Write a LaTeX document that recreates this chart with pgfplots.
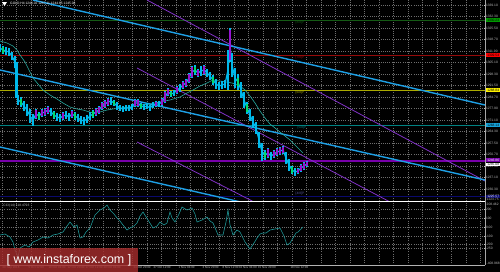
\documentclass[border=0pt]{standalone}
\usepackage{fontspec}
\setmainfont{Liberation Sans}
\usepackage{pgfplots}
\pgfplotsset{compat=1.18}
\definecolor{trendC}{RGB}{30,160,230}
\definecolor{trendP}{RGB}{130,50,200}
\definecolor{candC}{RGB}{0,185,235}
\definecolor{candP}{RGB}{150,20,210}
\definecolor{candG}{RGB}{0,220,110}
\definecolor{maC}{RGB}{40,170,160}
\definecolor{mmGreen}{RGB}{20,90,20}
\definecolor{mmRed}{RGB}{150,10,10}
\definecolor{mmYellow}{RGB}{170,170,0}
\definecolor{mmTeal}{RGB}{0,130,130}
\definecolor{mmPurple}{RGB}{120,0,170}
\definecolor{mmNavy}{RGB}{10,10,110}
\definecolor{cciC}{RGB}{30,150,150}
\definecolor{gridC}{RGB}{110,110,110}
\definecolor{lblC}{RGB}{190,190,190}
\newcommand{\tinyf}{\fontsize{3.3}{3.6}\selectfont}
\newcommand{\tinyx}{\fontsize{3.0}{3.3}\selectfont}
\begin{document}
\begin{tikzpicture}
\useasboundingbox (0,0) rectangle (500bp,-272bp);
\fill[black] (0,0) rectangle (500bp,-272bp);
% ---------------- main price panel ----------------
\begin{axis}[at={(0bp,0bp)}, anchor=north west, scale only axis,
  width=485bp, height=201bp, xmin=0, xmax=485, ymin=0, ymax=201, y dir=reverse,
  axis line style={draw=none}, clip mode=individual, unbounded coords=jump,
  xtick={2,16.5,...,481}, xticklabels={}, xtick style={draw=none},
  ytick={5,16.5,...,190},
  yticklabels={1339.10,1332.30,1325.50,1318.70,1311.90,1305.10,1298.30,1291.50,1284.70,1277.90,1271.10,1264.30,1257.50,1250.70,1243.90,1237.10,1230.30},
  ytick pos=right, yticklabel pos=right,
  ytick style={draw=lblC, line width=0.3bp}, major tick length=1.5bp,
  yticklabel style={font=\tinyf, text=lblC, inner sep=0.8bp},
  grid=major, grid style={gridC, dash pattern=on 0.6bp off 1.6bp, line width=0.45bp}]
% Murrey-type horizontal levels
\addplot[mmGreen, line width=0.8bp] coordinates {(0,20) (485,20)};
\addplot[mmRed, line width=0.8bp] coordinates {(0,55) (485,55)};
\addplot[mmYellow, line width=0.8bp] coordinates {(0,90) (485,90)};
\addplot[mmTeal, line width=0.8bp] coordinates {(0,125) (485,125)};
\addplot[mmPurple, line width=1.4bp] coordinates {(0,161) (485,161)};
\addplot[mmNavy, line width=1.6bp] coordinates {(0,196.5) (485,196.5)};
% purple channel lines
\addplot[trendP, line width=0.8bp] coordinates {(147,0) (485,181)};
\addplot[trendP, line width=0.8bp] coordinates {(137,68) (392,203)};
\addplot[trendP, line width=0.8bp] coordinates {(137,142) (256,203)};
% cyan trend lines
\addplot[trendC, line width=1.4bp] coordinates {(33,0) (485,105)};
\addplot[trendC, line width=1.4bp] coordinates {(0,70) (485,180)};
\addplot[trendC, line width=1.4bp] coordinates {(0,147) (245,203)};
% moving average
\addplot[maC, line width=0.6bp] coordinates {(0,41) (7,43) (13,46) (17,50) (20,55) (25,62) (30,72) (33,78) (38,84) (43,90) (50,95) (57,99) (63,103) (70,107) (77,109) (83,110) (93,113) (100,112) (107,110) (113,109) (120,108) (130,107) (140,105) (150,104) (160,102) (170,100) (180,97) (187,93) (193,90) (200,86) (207,83) (213,80) (220,81) (226,82) (232,83) (240,86) (245,90) (250,96) (255,103) (260,111) (265,118) (270,124) (275,128) (280,132) (285,136) (290,140) (295,145) (300,150) (303,153)};
% price path (closes)
\addplot[candC, line width=1.2bp] coordinates {(0,48) (3,50) (6,51) (9,52) (12,56) (15,62) (16.5,80) (18,100) (21,102) (24,106) (27,110) (30,116) (33,120) (36,114) (39,116) (42,113) (45,112) (48,110) (51,112) (54,115) (57,117) (60,118) (63,116) (66,115) (69,117) (72,114) (75,116) (78,118) (81,120) (84,121) (87,119) (90,116) (93,114) (96,112) (99,110) (102,106) (105,104) (108,102) (111,101) (114,103) (117,106) (120,108) (123,109) (126,108) (129,108) (132,107) (135,103) (138,103) (141,106) (144,107) (147,106) (150,108) (153,105) (156,104) (159,104) (162,102) (165,97) (168,92) (171,94) (174,93) (177,90) (180,88) (183,85) (186,83) (189,78) (192,72) (195,70) (198,73) (201,71) (204,70) (207,73) (210,76) (213,80) (216,84) (219,86) (222,85) (225,84) (228,70) (230,45) (232,65) (235,78) (238,82) (241,90) (244,100) (247,108) (250,115) (253,122) (256,128) (259,140) (262,152) (265,155) (268,153) (271,156) (274,154) (277,152) (280,151) (283,150) (286,158) (289,165) (292,170) (295,172) (298,171) (301,168) (304,166) (307,164)};
% candles: low-high ranges, one segment per candle
\addplot[candC, line width=2.4bp] coordinates {
(0,44) (0,52) (0,nan) (3,46) (3,54) (3,nan) (6,47) (6,55) (6,nan) (9,48) (9,56) (9,nan) (12,52) (12,60) (12,nan) (15,56) (15,68) (15,nan) (16.5,62) (16.5,98) (16.5,nan) (18,95) (18,105) (18,nan) (21,97) (21,107) (21,nan) (24,101) (24,111) (24,nan) (27,104) (27,116) (27,nan) (30,109) (30,123) (30,nan) (33,114) (33,126) (33,nan) (36,109) (36,119) (36,nan) (39,112) (39,120) (39,nan) (42,109) (42,117) (42,nan) (45,108) (45,116) (45,nan) (48,106) (48,114) (48,nan) (51,108) (51,116) (51,nan) (54,111) (54,119) (54,nan) (57,113) (57,121) (57,nan) (60,114) (60,122) (60,nan) (63,112) (63,120) (63,nan) (66,111) (66,119) (66,nan) (69,113) (69,121) (69,nan) (72,110) (72,118) (72,nan) (75,112) (75,120) (75,nan) (78,114) (78,122) (78,nan) (81,116) (81,124) (81,nan) (84,117) (84,125) (84,nan) (87,115) (87,123) (87,nan) (90,112) (90,120) (90,nan) (93,110) (93,118) (93,nan) (96,108) (96,116) (96,nan) (99,106) (99,114) (99,nan) (102,102) (102,110) (102,nan) (105,100) (105,108) (105,nan) (108,98) (108,106) (108,nan) (111,97) (111,105) (111,nan) (114,100) (114,106) (114,nan) (117,102) (117,110) (117,nan) (120,105) (120,111) (120,nan) (123,106) (123,112) (123,nan) (126,105) (126,111) (126,nan) (129,105) (129,111) (129,nan) (132,104) (132,110) (132,nan) (135,99) (135,107) (135,nan) (138,99) (138,107) (138,nan) (141,103) (141,109) (141,nan) (144,104) (144,110) (144,nan) (147,103) (147,109) (147,nan) (150,105) (150,111) (150,nan) (153,102) (153,108) (153,nan) (156,101) (156,107) (156,nan) (159,101) (159,107) (159,nan) (162,98) (162,106) (162,nan) (165,91) (165,103) (165,nan) (168,88) (168,96) (168,nan) (171,91) (171,97) (171,nan) (174,90) (174,96) (174,nan) (177,86) (177,94) (177,nan) (180,84) (180,92) (180,nan) (183,81) (183,89) (183,nan) (186,79) (186,87) (186,nan) (189,73) (189,83) (189,nan) (192,66) (192,78) (192,nan) (195,65) (195,75) (195,nan) (198,69) (198,77) (198,nan) (201,66) (201,76) (201,nan) (204,65) (204,75) (204,nan) (207,69) (207,77) (207,nan) (210,72) (210,80) (210,nan) (213,75) (213,85) (213,nan) (216,79) (216,89) (216,nan) (219,82) (219,90) (219,nan) (222,81) (222,89) (222,nan) (225,80) (225,88) (225,nan) (228,50) (228,90) (228,nan) (230,28) (230,62) (230,nan) (232,53) (232,77) (232,nan) (235,68) (235,88) (235,nan) (238,74) (238,90) (238,nan) (241,82) (241,98) (241,nan) (244,92) (244,108) (244,nan) (247,102) (247,114) (247,nan) (250,109) (250,121) (250,nan) (253,116) (253,128) (253,nan) (256,122) (256,134) (256,nan) (259,132) (259,148) (259,nan) (262,143) (262,161) (262,nan) (265,150) (265,160) (265,nan) (268,148) (268,158) (268,nan) (271,152) (271,160) (271,nan) (274,150) (274,158) (274,nan) (277,148) (277,156) (277,nan) (280,147) (280,155) (280,nan) (283,146) (283,154) (283,nan) (286,152) (286,164) (286,nan) (289,159) (289,171) (289,nan) (292,166) (292,174) (292,nan) (295,168) (295,176) (295,nan) (298,168) (298,174) (298,nan) (301,164) (301,172) (301,nan) (304,162) (304,170) (304,nan) (307,161) (307,167)};
\addplot[candP, line width=2.0bp] coordinates {
(36,110) (36,118) (36,nan) (42,110) (42,116) (42,nan) (45,109) (45,115) (45,nan) (48,107) (48,113) (48,nan) (63,113) (63,119) (63,nan) (72,111) (72,117) (72,nan) (96,109) (96,115) (96,nan) (99,107) (99,113) (99,nan) (102,103) (102,109) (102,nan) (105,101) (105,107) (105,nan) (108,99) (108,105) (108,nan) (135,100) (135,106) (135,nan) (138,100) (138,106) (138,nan) (156,102) (156,106) (156,nan) (162,99) (162,105) (162,nan) (165,92) (165,102) (165,nan) (168,89) (168,95) (168,nan) (177,87) (177,93) (177,nan) (183,82) (183,88) (183,nan) (186,80) (186,86) (186,nan) (189,74) (189,82) (189,nan) (192,67) (192,77) (192,nan) (198,70) (198,76) (198,nan) (204,66) (204,74) (204,nan) (230,30) (230,60) (230,nan) (268,149) (268,157) (268,nan) (274,151) (274,157) (274,nan) (277,149) (277,155) (277,nan) (280,148) (280,154) (280,nan) (283,147) (283,153) (283,nan) (298,169) (298,173) (298,nan) (301,165) (301,171) (301,nan) (304,163) (304,169) (304,nan) (307,162) (307,166)};
\addplot[candG, line width=1.4bp] coordinates {
(3,47) (3,53) (3,nan) (21,99) (21,105) (21,nan) (39,113) (39,119) (39,nan) (54,112) (54,118) (54,nan) (75,113) (75,119) (75,nan) (93,111) (93,117) (93,nan) (114,101) (114,105) (114,nan) (141,104) (141,108) (141,nan) (171,92) (171,96) (171,nan) (195,67) (195,73) (195,nan) (213,77) (213,83) (213,nan) (238,78) (238,86) (238,nan) (247,104) (247,112) (247,nan) (265,152) (265,158) (265,nan) (292,167) (292,173)};
% level captions
\node[font=\tinyf, text=mmGreen] at (axis cs:300,23) {[8/8]P};
\node[font=\tinyf, text=mmRed] at (axis cs:300,58) {[7/8]P};
\node[font=\tinyf, text=mmYellow] at (axis cs:300,93) {[6/8]P};
\node[font=\tinyf, text=mmTeal] at (axis cs:302,128) {[5/8]P};
\node[font=\tinyf, text=mmNavy!70!white] at (axis cs:300,194) {[4/8]P};
% price boxes on the scale
\node[anchor=west, font=\tinyf, fill=green!60!black, text=black, inner sep=0.5bp, minimum width=14bp] at (axis cs:486,20) {1330.23};
\node[anchor=west, font=\tinyf, fill=red, text=black, inner sep=0.5bp, minimum width=14bp] at (axis cs:486,55) {1309.54};
\node[anchor=west, font=\tinyf, fill=yellow, text=black, inner sep=0.5bp, minimum width=14bp] at (axis cs:486,90) {1288.84};
\node[anchor=west, font=\tinyf, fill=cyan!80!teal, text=black, inner sep=0.5bp, minimum width=14bp] at (axis cs:486,125) {1268.14};
\node[anchor=west, font=\tinyf, fill=mmPurple, text=white, inner sep=0.5bp, minimum width=14bp] at (axis cs:486,160) {1246.86};
\node[anchor=west, font=\tinyf, fill=white, text=black, inner sep=0.5bp, minimum width=14bp] at (axis cs:486,164.5) {1245.08};
\node[anchor=west, font=\tinyf, fill=mmNavy, text=white, inner sep=0.5bp, minimum width=14bp] at (axis cs:486,196.5) {1225.57};
\node[anchor=west, font=\tinyf, text=lblC, inner sep=0.5bp] at (axis cs:486,199.5) {1223.75};
% title
\node[anchor=west, font=\tinyf, text=white, inner sep=0pt] at (axis cs:10,4) {GOLD,H4 1246.02 1247.11 1244.65 1245.08};
\end{axis}
% ---------------- CCI panel ----------------
\begin{axis}[at={(0bp,-203bp)}, anchor=north west, scale only axis,
  width=485bp, height=62bp, xmin=0, xmax=485, ymin=203, ymax=265, y dir=reverse,
  axis line style={draw=none}, clip mode=individual,
  xtick={2,16.5,...,481}, xticklabels={}, xtick style={draw=none},
  extra x ticks={2,28,48,67,85,103,133,153,178,202,222,238.5,257.5,290},
  extra x tick labels={30 Sep 2016,5 Oct 12:00,10 Oct 04:00,12 Oct 20:00,17 Oct 12:00,20 Oct 04:00,24 Oct 20:00,27 Oct 12:00,1 Nov 04:00,3 Nov 20:00,8 Nov 12:00,10 Nov 04:00,15 Nov 20:00,18 Nov 12:00},
  extra x tick style={grid=none, xticklabel style={anchor=north west, font=\tinyx, text=lblC, inner sep=0.3bp, yshift=-0.5bp}},
  ytick={209,218,227,236,244,248},
  yticklabels={200,100,0.00,-100,-200,-250},
  ytick pos=right, yticklabel pos=right,
  ytick style={draw=lblC, line width=0.3bp}, major tick length=1.5bp,
  yticklabel style={font=\tinyf, text=lblC, inner sep=0.8bp},
  grid=major, grid style={gridC, dash pattern=on 0.6bp off 1.6bp, line width=0.45bp}]
\addplot[cciC, line width=0.6bp] coordinates {(0,235) (5,234) (10,237) (13,242) (15,250) (18,257) (20,248) (25,245) (29,247) (33,242) (38,240) (43,237) (48,238) (53,235) (58,234) (63,232) (67,226) (70,222) (74,227) (77,225) (80,238) (83,237) (86,232) (90,228) (95,215) (98,212) (100,210) (104,208) (107,205) (110,210) (114,214) (117,218) (120,221) (123,225) (127,230) (130,228) (134,226) (137,223) (140,216) (143,212) (148,220) (153,228) (157,226) (160,222) (164,225) (167,223) (170,212) (172,218) (175,222) (179,214) (182,207) (187,210) (192,208) (195,214) (197,222) (202,220) (207,217) (210,221) (213,223) (216,230) (218,235) (223,235) (226,222) (228,210) (230,225) (233,235) (237,230) (240,232) (245,242) (250,249) (254,243) (257,238) (260,234) (263,233) (266,233) (270,230) (275,229) (280,228) (284,236) (287,245) (290,243) (293,238) (296,233) (298,232) (301,229) (303,227)};
\node[anchor=west, font=\tinyf, text=lblC, inner sep=0.3bp] at (axis cs:3,205.5) {CCI(14) 118.4793};
\node[anchor=west, font=\tinyf, text=lblC, inner sep=0.5bp] at (axis cs:486,204.5) {208.462};
\node[anchor=west, font=\tinyf, text=lblC, inner sep=0.5bp] at (axis cs:486,263) {-408.968};
\end{axis}
% panel separators
\draw[white, line width=0.7bp] (0,-201.5bp) -- (485bp,-201.5bp);
\draw[gray!60, line width=0.5bp] (0,-265bp) -- (485bp,-265bp);
\draw[gray!70, line width=0.5bp] (485bp,0) -- (485bp,-265bp);
\fill[white] (2bp,-2bp) -- (7bp,-2bp) -- (4.5bp,-6bp) -- cycle;
% watermark
\fill[fill={rgb,255:red,165;green,45;blue,45}, opacity=0.82] (0,-248bp) rectangle (138bp,-272bp);
\node[text=white, font=\fontsize{12.5}{13}\selectfont, inner sep=0pt] at (69bp,-260bp) {[ www.instaforex.com ]};
\end{tikzpicture}
\end{document}
